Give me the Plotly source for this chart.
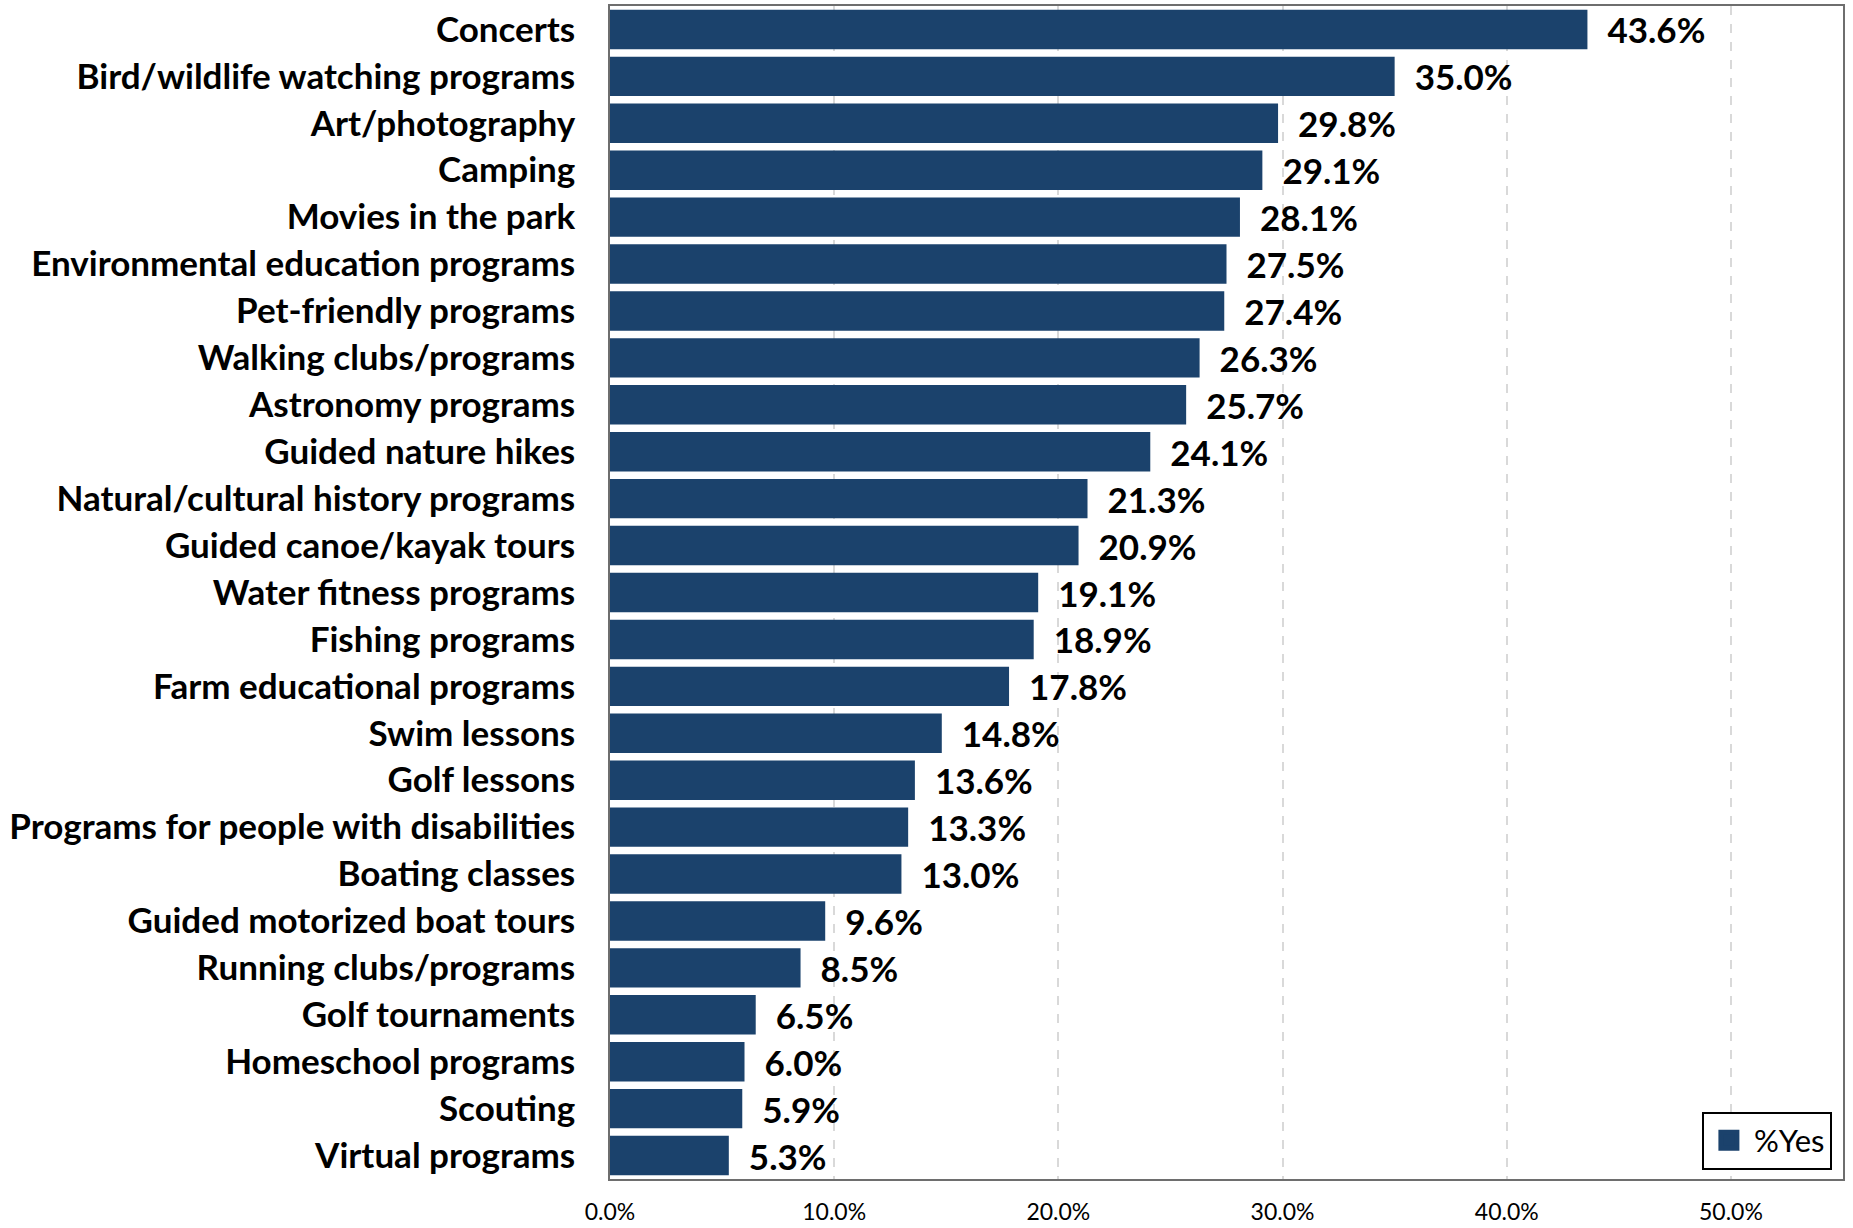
import plotly.graph_objects as go

categories = [
    "Concerts", "Bird/wildlife watching programs", "Art/photography", "Camping",
    "Movies in the park", "Environmental education programs", "Pet-friendly programs",
    "Walking clubs/programs", "Astronomy programs", "Guided nature hikes",
    "Natural/cultural history programs", "Guided canoe/kayak tours",
    "Water fitness programs", "Fishing programs", "Farm educational programs",
    "Swim lessons", "Golf lessons", "Programs for people with disabilities",
    "Boating classes", "Guided motorized boat tours", "Running clubs/programs",
    "Golf tournaments", "Homeschool programs", "Scouting", "Virtual programs",
]
pct_yes = [43.6, 35.0, 29.8, 29.1, 28.1, 27.5, 27.4, 26.3, 25.7, 24.1, 21.3, 20.9,
           19.1, 18.9, 17.8, 14.8, 13.6, 13.3, 13.0, 9.6, 8.5, 6.5, 6.0, 5.9, 5.3]
x_ticks = [0, 10, 20, 30, 40, 50]
x_tick_labels = ["0.0%", "10.0%", "20.0%", "30.0%", "40.0%", "50.0%"]
series_name = "%Yes"

FONT = "Lato"
BAR_COLOR = "#1b426c"

fig = go.Figure()
fig.add_trace(go.Bar(
    x=pct_yes,
    y=categories,
    orientation="h",
    name=series_name,
    showlegend=False,
    legendgroup="yes",
    marker=dict(color=BAR_COLOR, line=dict(width=0)),
    texttemplate="  %{x:.1f}%",
    textposition="outside",
    constraintext="none",
    cliponaxis=False,
    textfont=dict(family=FONT, size=35, color="black", weight="bold"),
))
# legend entry with a larger swatch
fig.add_trace(go.Scatter(
    x=[None], y=[None],
    mode="markers",
    name=series_name,
    legendgroup="yes",
    marker=dict(symbol="square", size=16, color=BAR_COLOR,
                line=dict(color=BAR_COLOR, width=5)),
    hoverinfo="skip",
))

fig.update_layout(
    width=1853, height=1228,
    margin=dict(l=610, r=10, t=6, b=49),
    plot_bgcolor="white", paper_bgcolor="white",
    bargap=0.16,
    showlegend=True,
    legend=dict(
        x=0.991, y=0.008, xanchor="right", yanchor="bottom",
        bordercolor="black", borderwidth=2,
        font=dict(family=FONT, size=31, color="black"),
        bgcolor="white",
        itemwidth=40,
        tracegroupgap=0,
    ),
    xaxis=dict(
        range=[0, 55],
        tickvals=x_ticks, ticktext=x_tick_labels,
        showgrid=True, gridcolor="#d9d9d9", griddash="dash", gridwidth=1.5,
        zeroline=False,
        showline=True, linecolor="#6e6e6e", linewidth=1.5, mirror=True,
        tickfont=dict(family=FONT, size=23, color="black"),
        ticks="", ticklabelstandoff=12,
        automargin=False,
    ),
    yaxis=dict(
        autorange="reversed",
        showgrid=False, zeroline=False,
        showline=True, linecolor="#6e6e6e", linewidth=1.5, mirror=True,
        tickfont=dict(family=FONT, size=35, color="black", weight="bold"),
        ticks="", ticklabelstandoff=26,
        automargin=False,
    ),
)

fig.write_html("out.html", config={"displayModeBar": False},
               post_script="document.body.style.margin='0';")
